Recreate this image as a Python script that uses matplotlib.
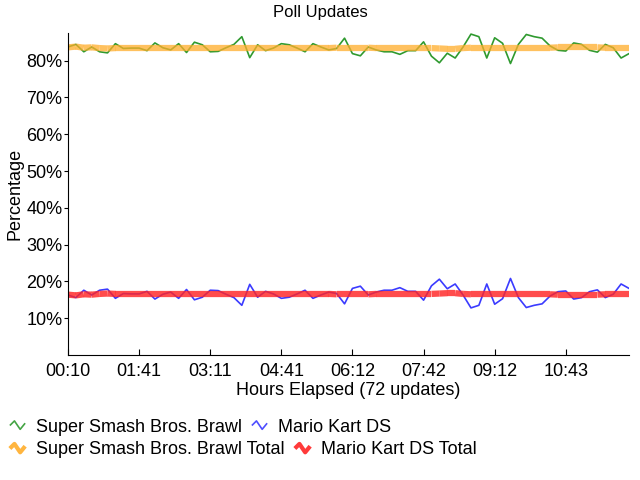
import matplotlib
matplotlib.use("Agg")
import matplotlib.pyplot as plt
import numpy as np
from matplotlib.collections import LineCollection
from matplotlib.lines import Line2D
from matplotlib.path import Path

plt.rcParams['font.family'] = ['Liberation Sans Narrow', 'Liberation Sans', 'DejaVu Sans']

# data (percent per poll update)
tick_labels = ["00:10", "01:41", "03:11", "04:41", "06:12", "07:42", "09:12", "10:43"]
brawl = [83.7, 84.4, 82.4, 83.7, 82.4, 82.1, 84.6, 83.3, 83.4, 83.4,
         82.7, 84.8, 83.5, 82.9, 84.6, 82.2, 85.0, 84.3, 82.4, 82.5,
         83.5, 84.4, 86.5, 80.8, 84.3, 82.7, 83.4, 84.6, 84.3, 83.4,
         82.4, 84.6, 83.7, 82.9, 83.3, 86.1, 81.9, 81.3, 83.7, 82.9,
         82.4, 82.4, 81.7, 82.7, 82.7, 85.1, 81.2, 79.4, 82.0, 80.7,
         83.7, 87.2, 86.5, 80.7, 86.2, 84.7, 79.2, 84.4, 87.1, 86.5,
         86.1, 84.0, 82.8, 82.6, 84.8, 84.4, 82.8, 82.3, 84.4, 83.5, 80.7, 81.9]
mario = [16.3, 15.6, 17.6, 16.3, 17.6, 17.9, 15.4, 16.7, 16.6, 16.6,
         17.3, 15.2, 16.5, 17.1, 15.4, 17.8, 15.0, 15.7, 17.6, 17.5,
         16.5, 15.6, 13.5, 19.2, 15.7, 17.3, 16.6, 15.4, 15.7, 16.6,
         17.6, 15.4, 16.3, 17.1, 16.7, 13.9, 18.1, 18.7, 16.3, 17.1,
         17.6, 17.6, 18.3, 17.3, 17.3, 14.9, 18.8, 20.6, 18.0, 19.3,
         16.3, 12.8, 13.5, 19.3, 13.8, 15.3, 20.8, 15.6, 12.9, 13.5,
         13.9, 16.0, 17.2, 17.4, 15.2, 15.6, 17.2, 17.7, 15.6, 16.5, 19.3, 18.1]
brawl_total = [83.6, 83.8, 83.5, 83.6, 83.4, 83.3, 83.4, 83.4, 83.4, 83.4,
               83.4, 83.4, 83.4, 83.4, 83.4, 83.4, 83.4, 83.4, 83.4, 83.4,
               83.4, 83.4, 83.4, 83.4, 83.4, 83.4, 83.4, 83.4, 83.4, 83.4,
               83.4, 83.4, 83.4, 83.4, 83.5, 83.5, 83.5, 83.5, 83.5, 83.4,
               83.4, 83.4, 83.4, 83.4, 83.4, 83.4, 83.4, 83.3, 83.2, 83.2,
               83.4, 83.5, 83.5, 83.5, 83.5, 83.5, 83.5, 83.5, 83.5, 83.5,
               83.5, 83.5, 83.6, 83.6, 83.6, 83.6, 83.6, 83.6, 83.5, 83.5, 83.5, 83.5]
mario_total = [16.4, 16.2, 16.5, 16.4, 16.6, 16.7, 16.6, 16.6, 16.6, 16.6,
               16.6, 16.6, 16.6, 16.6, 16.6, 16.6, 16.6, 16.6, 16.6, 16.6,
               16.6, 16.6, 16.6, 16.6, 16.6, 16.6, 16.6, 16.6, 16.6, 16.6,
               16.6, 16.6, 16.6, 16.6, 16.5, 16.5, 16.5, 16.5, 16.5, 16.6,
               16.6, 16.6, 16.6, 16.6, 16.6, 16.6, 16.6, 16.7, 16.8, 16.8,
               16.6, 16.5, 16.5, 16.5, 16.5, 16.5, 16.5, 16.5, 16.5, 16.5,
               16.5, 16.5, 16.4, 16.4, 16.4, 16.4, 16.4, 16.4, 16.5, 16.5, 16.5, 16.5]

GREEN = '#2f9a2f'
BLUE = '#3b3bff'
ORANGE = '#ffad2a'
RED = '#ff2424'

x = np.arange(len(brawl))

fig = plt.figure(figsize=(6.4, 4.8), dpi=100)
ax = fig.add_axes([68 / 640, 1 - 355 / 480, 561 / 640, 322 / 480])

ax.plot(x, brawl, color=GREEN, lw=1.2)
ax.plot(x, mario, color=BLUE, lw=1.2)


def thick(vals, color, a):
    pts = np.column_stack([x, vals])
    segs = [pts[i:i + 2] for i in range(len(pts) - 1)]
    lc = LineCollection(segs, colors=color, linewidths=4.5, alpha=a,
                        capstyle='butt')
    ax.add_collection(lc)


thick(brawl_total, ORANGE, 0.75)
thick(mario_total, RED, 0.82)

ax.set_xlim(0, len(brawl) - 1)
ax.set_ylim(0, 87.5)
ax.set_xticks(x[::9][:len(tick_labels)])
ax.set_xticklabels(tick_labels)
ax.set_yticks(np.arange(10, 81, 10))
ax.set_yticklabels([f"{v}%" for v in range(10, 81, 10)])
ax.tick_params(axis='x', direction='in', length=4, labelsize=13, pad=6)
ax.tick_params(axis='y', direction='out', length=3, labelsize=13, pad=1)
for s in ['top', 'right']:
    ax.spines[s].set_visible(False)
ax.set_xlabel("Hours Elapsed (72 updates)", fontsize=13, labelpad=1)
ax.set_ylabel("Percentage", fontsize=13, labelpad=2)
fig.text(0.5, 1 - 12 / 480, "Poll Updates", ha='center', va='center', fontsize=12)

zig = Path([(-1, 0.0), (-0.4, 0.6), (0.35, -0.5), (1, 0.3)],
           [Path.MOVETO, Path.LINETO, Path.LINETO, Path.LINETO])


def handle(color, w):
    return Line2D([], [], ls='none', marker=zig, markersize=11, markerfacecolor='none',
                  markeredgecolor=color, markeredgewidth=w, alpha=0.9)


rows = [([handle(GREEN, 1.2), handle(BLUE, 1.2)],
         ["Super Smash Bros. Brawl", "Mario Kart DS"], 427),
        ([handle(ORANGE, 3), handle(RED, 3)],
         ["Super Smash Bros. Brawl Total", "Mario Kart DS Total"], 450)]
for h, lab, yy in rows:
    fig.legend(h, lab, loc='center left', bbox_to_anchor=(9 / 640, 1 - yy / 480),
               ncol=2, frameon=False, fontsize=13, borderpad=0, borderaxespad=0,
               handlelength=0.9, handletextpad=0.6, columnspacing=0.5, numpoints=1)

fig.savefig("out.png", dpi=100)
